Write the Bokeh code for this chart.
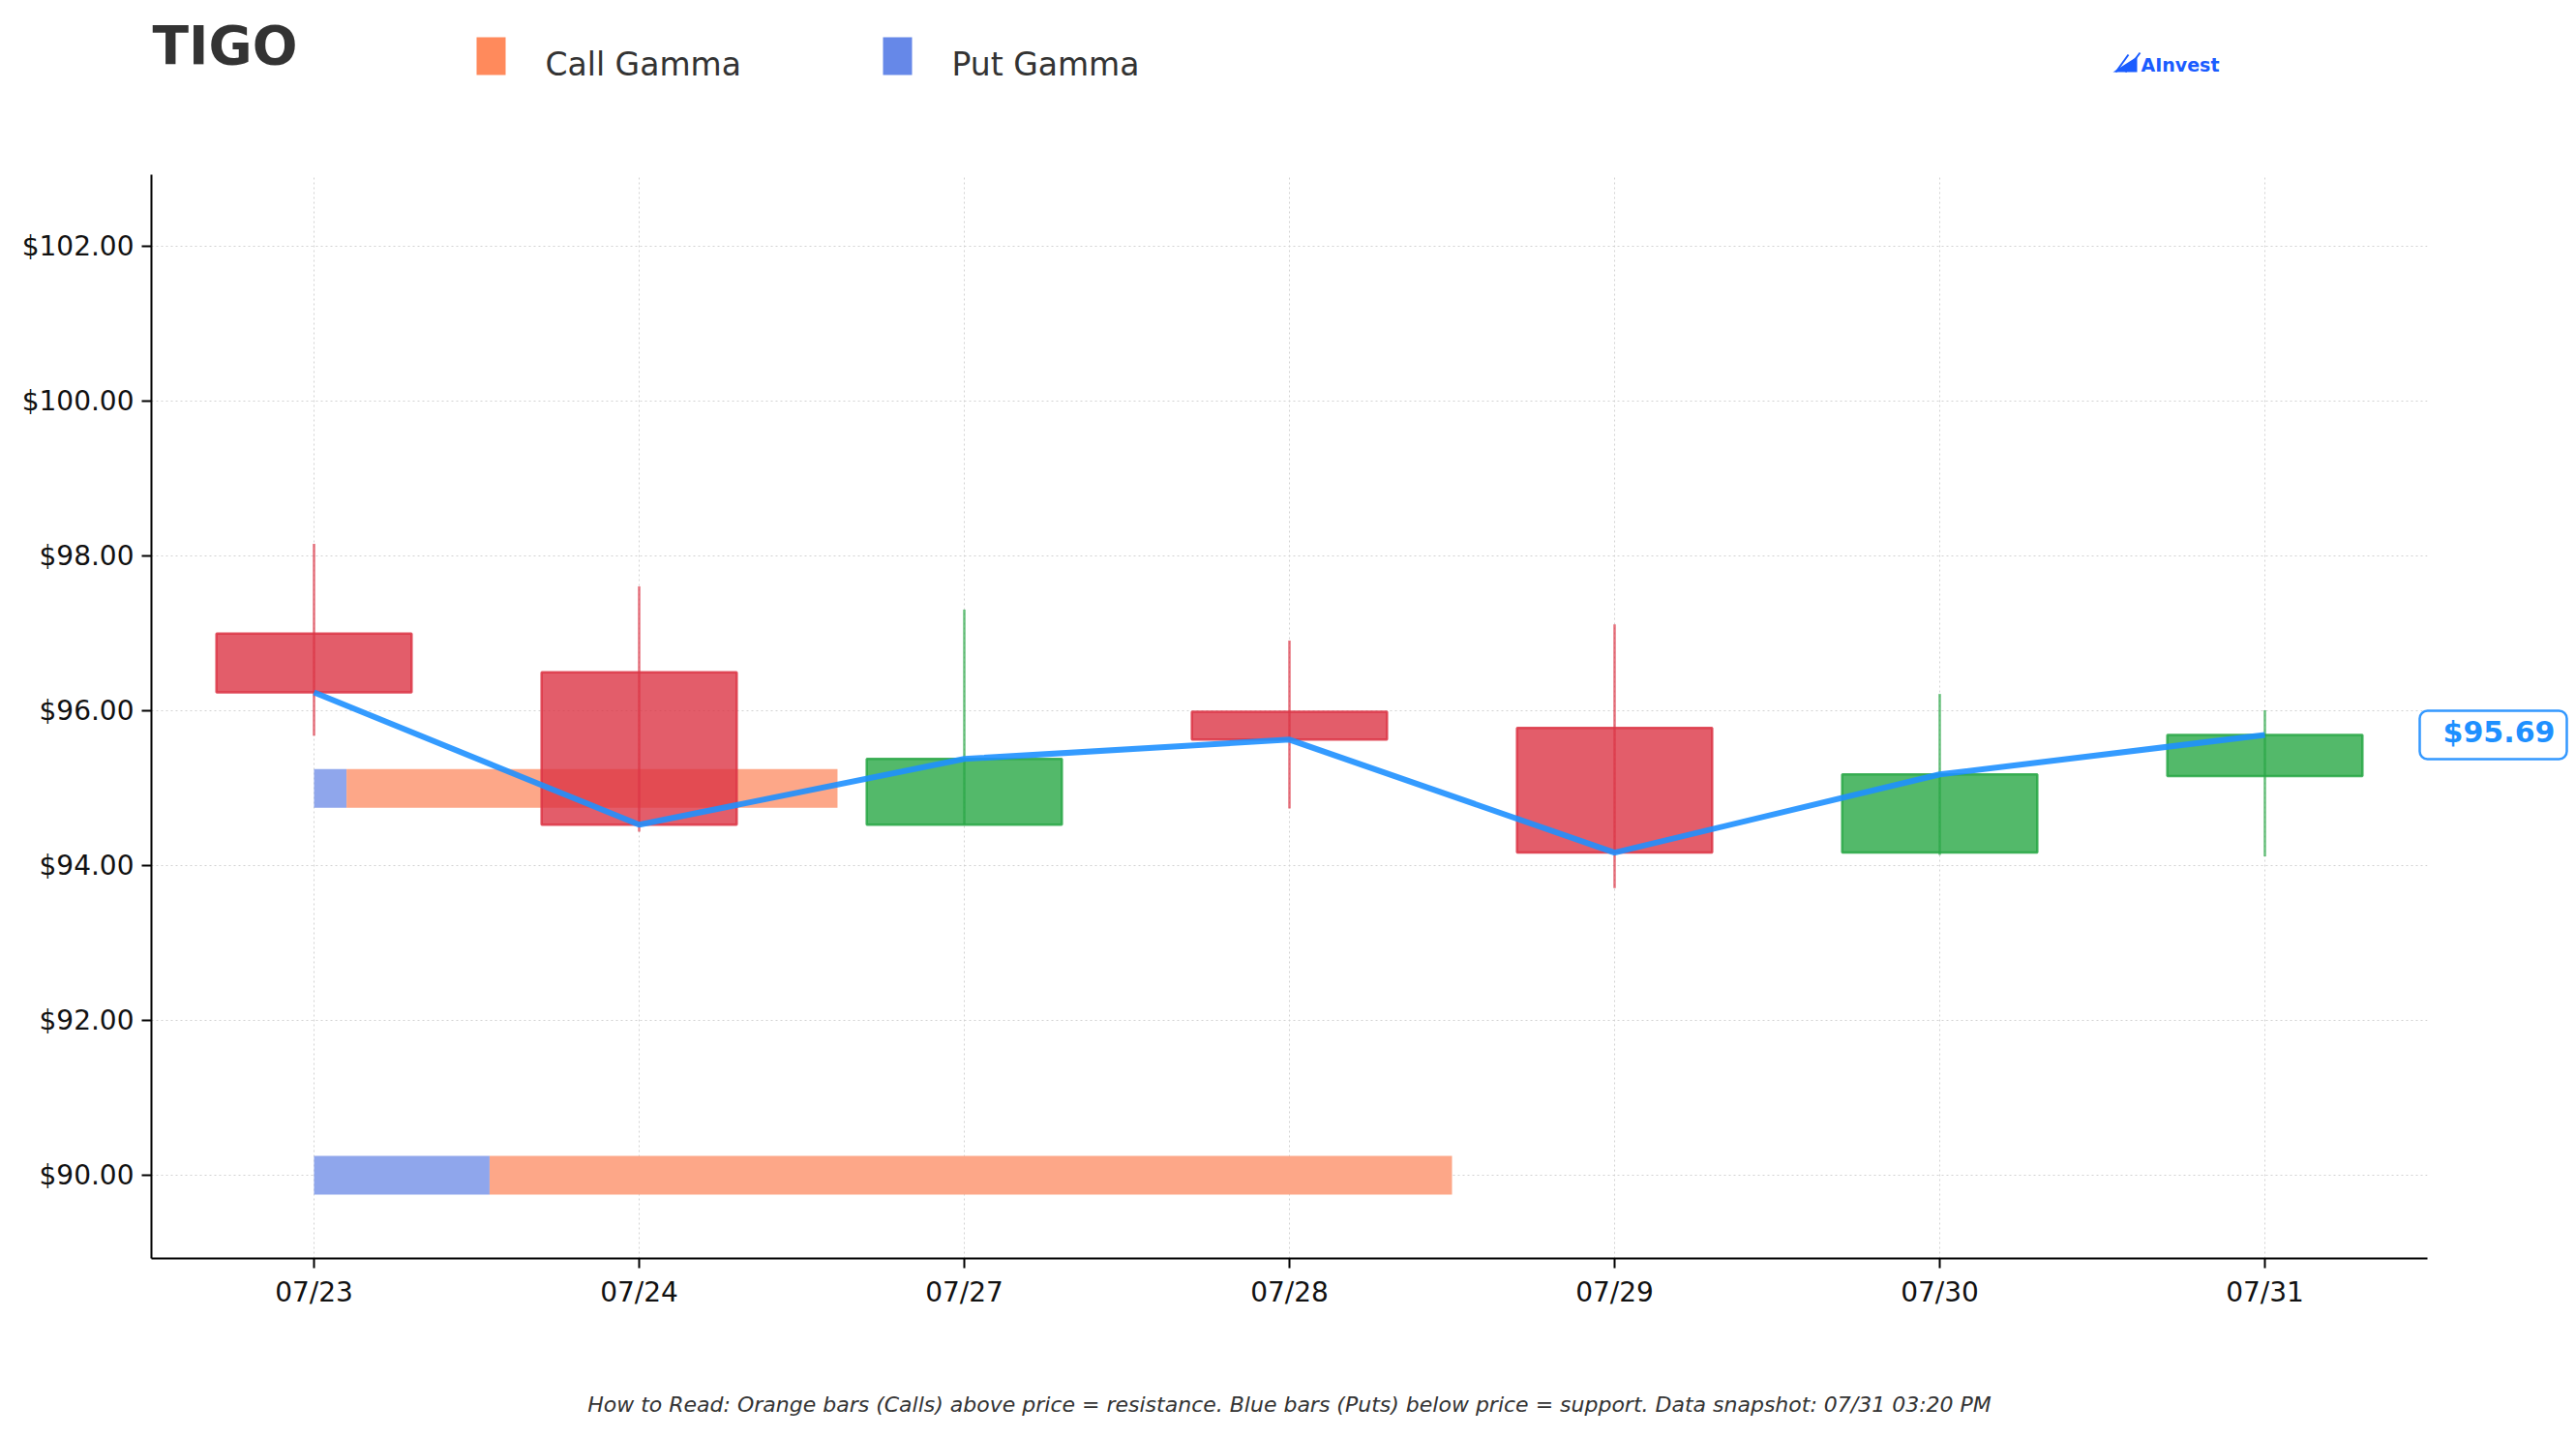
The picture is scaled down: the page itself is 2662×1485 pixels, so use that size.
from bokeh.plotting import figure
from bokeh.models import (ColumnDataSource, FixedTicker, PrintfTickFormatter, Label,
                          BoxAnnotation, Range1d, GridBox)
from bokeh.embed import file_html
from bokeh.resources import INLINE

# ---------------- data ----------------
dates = ["07/23", "07/24", "07/27", "07/28", "07/29", "07/30", "07/31"]
opens = [97.00, 96.50, 94.53, 95.99, 95.78, 94.17, 95.16]
closes = [96.24, 94.53, 95.38, 95.63, 94.17, 95.18, 95.69]
highs = [98.16, 97.61, 97.31, 96.91, 97.12, 96.22, 96.01]
lows = [95.68, 94.44, 94.53, 94.74, 93.71, 94.14, 94.12]

gamma_strikes = [95.0, 90.0]
put_gamma = [0.10, 0.54]
call_gamma = [1.51, 2.96]

y_ticks = [90, 92, 94, 96, 98, 100, 102]
last_price = 95.69
ticker_name = "TIGO"
legend_labels = ["Call Gamma", "Put Gamma"]
footer_text = ("How to Read: Orange bars (Calls) above price = resistance. "
               "Blue bars (Puts) below price = support. Data snapshot: 07/31 03:20 PM")

# ---------------- styles / layout ----------------
FONT = "DejaVu Sans"
RED = "#DC3545"
GREEN = "#28A745"
CALL_BAR = "#FDA788"
PUT_BAR = "#8FA6EC"
CALL_LEG = "#FF8A5C"
PUT_LEG = "#6688E8"
LINE_BLUE = "#1E90FF"
LOGO_BLUE = "#1A5CFF"

W, H = 2656, 1469
B_LEFT, B_TOP = 156, 180
FRAME_W, FRAME_H = 2352, 1120
Y0, Y1 = 88.925, 102.93

idx = list(range(len(dates)))
colors = [GREEN if c >= o else RED for o, c in zip(opens, closes)]
candle_src = ColumnDataSource(dict(
    x=idx,
    top=[max(o, c) for o, c in zip(opens, closes)],
    bottom=[min(o, c) for o, c in zip(opens, closes)],
    high=highs, low=lows, color=colors,
))
gamma_src = ColumnDataSource(dict(
    y=gamma_strikes,
    put_left=[0.0] * len(put_gamma),
    put_right=put_gamma,
    call_left=put_gamma,
    call_right=[p + c for p, c in zip(put_gamma, call_gamma)],
))

p = figure(width=W, height=H,
           x_range=Range1d(-0.5, 6.5), y_range=Range1d(Y0, Y1),
           output_backend="svg", toolbar_location=None,
           min_border_left=B_LEFT, min_border_right=W - B_LEFT - FRAME_W,
           min_border_top=B_TOP, min_border_bottom=H - B_TOP - FRAME_H)
p.outline_line_color = None
p.background_fill_color = "white"

p.xaxis.ticker = FixedTicker(ticks=idx)
p.xaxis.major_label_overrides = {i: d for i, d in zip(idx, dates)}
p.yaxis.ticker = FixedTicker(ticks=y_ticks)
p.yaxis.formatter = PrintfTickFormatter(format="$%.2f")
for ax in (p.xaxis, p.yaxis):
    ax.axis_line_width = 2
    ax.axis_line_color = "black"
    ax.major_tick_line_width = 2
    ax.major_tick_line_color = "black"
    ax.major_tick_out = 10
    ax.major_tick_in = 0
    ax.minor_tick_line_color = None
    ax.major_label_text_font = FONT
    ax.major_label_text_font_size = "28px"
    ax.major_label_text_color = "#111111"
    ax.major_label_standoff = 8

for g in (p.xgrid, p.ygrid):
    g.grid_line_color = "#d2d2d2"
    g.grid_line_dash = "2 3"
    g.grid_line_width = 1

# gamma bars
p.hbar(y="y", left="put_left", right="put_right", height=0.5, source=gamma_src,
       fill_color=PUT_BAR, line_color=None)
p.hbar(y="y", left="call_left", right="call_right", height=0.5, source=gamma_src,
       fill_color=CALL_BAR, line_color=None)

# candles
p.vbar(x="x", top="top", bottom="bottom", width=0.6, source=candle_src,
       fill_color="color", fill_alpha=0.8, line_color="color", line_alpha=0.85,
       line_width=2.5)
p.segment(x0="x", y0="low", x1="x", y1="high", source=candle_src,
          line_color="color", line_alpha=0.7, line_width=2.5)

# close line
p.line(idx, closes, line_color=LINE_BLUE, line_width=6, line_alpha=0.9)

# ---------------- overlay for texts outside the frame ----------------
ov = figure(width=W, height=H, x_range=Range1d(0, W), y_range=Range1d(H, 0),
            output_backend="svg", toolbar_location=None,
            x_axis_type=None, y_axis_type=None, min_border=0)
ov.outline_line_color = None
ov.background_fill_alpha = 0
ov.border_fill_alpha = 0
ov.xgrid.visible = False
ov.ygrid.visible = False
for fig in (p, ov):
    try:
        fig.frame_align = False
    except Exception:
        pass

# title
ov.add_layout(Label(x=157, y=46, text=ticker_name, text_font=FONT,
                    text_font_size="55px", text_font_style="bold",
                    text_color="#333333", text_baseline="alphabetic"))
# legend
ov.add_layout(BoxAnnotation(left=492, right=522, top=38, bottom=77,
                            fill_color=CALL_LEG, fill_alpha=1.0, line_color=None))
ov.add_layout(BoxAnnotation(left=912, right=942, top=38, bottom=77,
                            fill_color=PUT_LEG, fill_alpha=1.0, line_color=None))
ov.add_layout(Label(x=563, y=66, text=legend_labels[0], text_font=FONT,
                    text_font_size="33px", text_color="#333333",
                    text_baseline="alphabetic"))
ov.add_layout(Label(x=983, y=66, text=legend_labels[1], text_font=FONT,
                    text_font_size="33px", text_color="#333333",
                    text_baseline="alphabetic"))
# logo
ov.patch([2183, 2208, 2208], [74, 74, 58], fill_color=LOGO_BLUE, line_color=None)
ov.segment(x0=[2186, 2196], y0=[74, 74], x1=[2199, 2211], y1=[56, 54],
           line_color=LOGO_BLUE, line_width=2)
ov.add_layout(Label(x=2212, y=66, text="AInvest", text_font=FONT,
                    text_font_size="19px", text_font_style="bold",
                    text_color=LOGO_BLUE, text_baseline="alphabetic"))
# price label, placed at the price level of the main chart
py = B_TOP + (Y1 - last_price) / (Y1 - Y0) * FRAME_H
ov.add_layout(BoxAnnotation(left=2500, right=2652, top=py - 25, bottom=py + 25,
                            fill_color="white", fill_alpha=1.0,
                            line_color="#3398FF", line_alpha=1.0, line_width=2.5,
                            border_radius=8))
ov.add_layout(Label(x=2582, y=py - 3, text="$%.2f" % last_price, text_font=FONT,
                    text_font_size="30px", text_font_style="bold",
                    text_color=LINE_BLUE, text_align="center",
                    text_baseline="alphabetic"))
# footer
ov.add_layout(Label(x=1332, y=1451, text=footer_text, text_font=FONT,
                    text_font_size="22px", text_font_style="italic",
                    text_color="#333333", text_align="center",
                    text_baseline="alphabetic"))

layout = GridBox(children=[(p, 0, 0), (ov, 0, 0)])
open("out.html", "w").write(file_html(layout, INLINE))
